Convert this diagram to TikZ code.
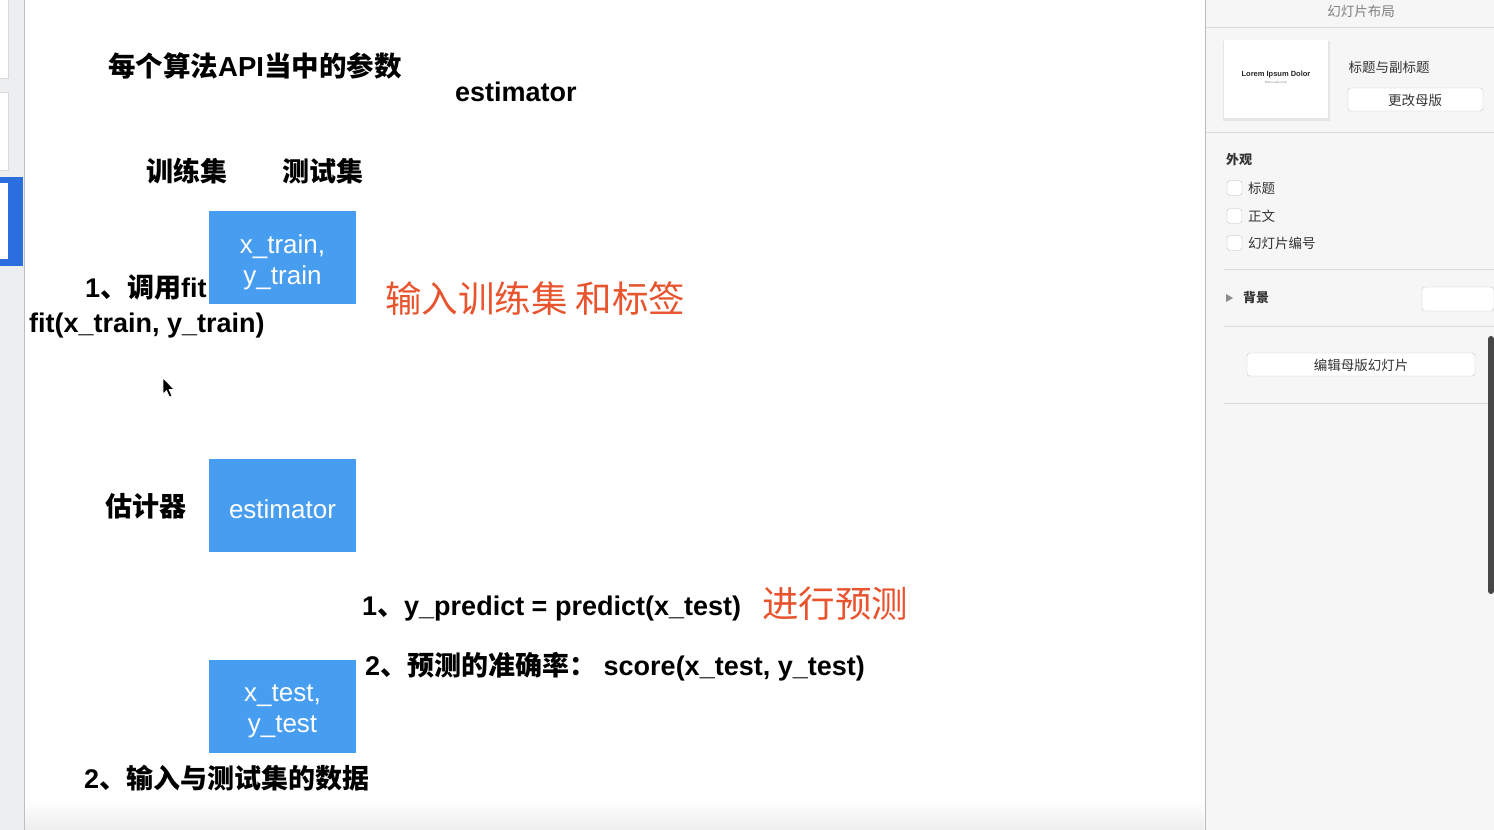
\documentclass[tikz,border=0pt]{standalone}
\usepackage{fontspec}
\setmainfont{Liberation Sans}
\newfontfamily\cjk{Noto Sans CJK SC}
\definecolor{boxblue}{RGB}{71,157,240}
\definecolor{redink}{RGB}{232,84,46}
\definecolor{panelbg}{RGB}{246,246,246}
\definecolor{selblue}{RGB}{45,110,222}
\definecolor{sidebg}{RGB}{236,238,240}
\newcommand\zh[1]{{\cjk #1}}
\begin{document}
\begin{tikzpicture}[x=1pt,y=-1pt,
  slidetxt/.style={anchor=west, inner sep=0pt, font=\fontsize{27}{32}\selectfont\bfseries, text=black},
  redlabel/.style={anchor=west, inner sep=0pt, font=\fontsize{36.5}{40}\selectfont\cjk, text=redink},
  bluebox/.style={fill=boxblue, draw=none, minimum width=147pt, minimum height=93pt, inner sep=0pt, anchor=north west},
  boxtxt/.style={text=white, align=center, inner sep=0pt, font=\fontsize{26}{31}\selectfont},
  paneltxt/.style={inner sep=0pt, font=\fontsize{13.5}{16}\selectfont\cjk, text=black!80},
  panelbtn/.style={draw=black!22, fill=white, rounded corners=3pt},
  panelline/.style={draw=black!14, line width=0.8pt},
  chkbox/.style={draw=black!25, fill=white, rounded corners=3pt, minimum width=15pt, minimum height=15pt, inner sep=0pt},
  thumb/.style={fill=white, draw=black!15}
]
\useasboundingbox (0,0) rectangle (1494,830);
\fill[white] (0,0) rectangle (1494,830);
% left sidebar
\fill[sidebg] (0,0) rectangle (24,830);
\path[thumb] (-5,-2) rectangle (8,78);
\path[thumb] (-5,92) rectangle (8,170);
\fill[selblue] (0,177) rectangle (23,266);
\fill[white] (0,183) rectangle (8,259);
\draw[black!25] (24.5,0) -- (24.5,830);
% slide bottom shade
\shade[top color=white, bottom color=black!7] (25,800) rectangle (1204,830);

% slide content
\node[slidetxt, font=\fontsize{27.5}{32}\selectfont\bfseries] (title) at (108,66) {\zh{每个算法}API\zh{当中的参数}};
\node[slidetxt] (est) at (455,92) {estimator};
\node[slidetxt] (train) at (146,171) {\zh{训练集}};
\node[slidetxt] (test) at (282,171) {\zh{测试集}};

\node[slidetxt] (fitcall) at (85,287) {1\zh{、调用}fit};
\node[bluebox] (trainbox) at (209,211) {};
\node[boxtxt] (traintxt) at (282.5,262) {x\_train,\\y\_train};
\node[slidetxt] (fitexpr) at (29,326) {fit(x\_train, y\_train)};
\node[redlabel] (trainnote) at (385,299) {输入训练集 和标签};

% mouse cursor
\filldraw[fill=black, draw=white, line width=0.6pt, line join=round]
  (163,378) -- (163,394) -- (166.5,390.5) -- (169.5,397) -- (172,396) -- (169,389.5) -- (174,389.5) -- cycle;

\node[slidetxt] (gujiqi) at (105,506) {\zh{估计器}};
\node[bluebox] (estbox) at (209,459) {};
\node[boxtxt] (esttxt) at (282.5,509) {estimator};

\node[slidetxt] (predict) at (362,608.5) {1\zh{、}y\_predict = predict(x\_test)};
\node[redlabel] (prednote) at (762,604) {进行预测};
\node[slidetxt] (score) at (365,667) {2\zh{、预测的准确率：} score(x\_test, y\_test)};

\node[bluebox] (testbox) at (209,660) {};
\node[boxtxt] (testtxt) at (282.5,711) {x\_test,\\y\_test};
\node[slidetxt] (testin) at (84,778) {2\zh{、输入与测试集的数据}};

% right panel
\fill[panelbg] (1205,0) rectangle (1494,830);
\draw[black!28] (1205.5,0) -- (1205.5,830);
\path[panelline] (1206,27) -- (1494,27);
\node[paneltxt, text=black!50] (ptitle) at (1361,11) {幻灯片布局};
\fill[black!10] (1223,41) rectangle (1330,121);
\fill[white] (1224,40) rectangle (1328,118);
\node[inner sep=0pt, font=\fontsize{7.5}{9}\selectfont\bfseries, text=black!85] (lorem) at (1276,75) {Lorem Ipsum Dolor};
\node[inner sep=0pt, font=\fontsize{3}{4}\selectfont, text=black!50] (loremsub) at (1276,83) {Donec quis nunc};
\node[paneltxt] (layoutname) at (1389,67) {标题与副标题};
\path[panelbtn] (1348,88) rectangle (1483,111);
\node[paneltxt] (changemaster) at (1415,100) {更改母版};
\path[panelline] (1206,132) -- (1494,132);
\node[paneltxt, font=\fontsize{13}{16}\selectfont\cjk\bfseries, anchor=west] (appear) at (1226,160) {外观};
\node[chkbox] (cb1) at (1234.5,188) {};
\node[paneltxt, anchor=west] (cbl1) at (1248,188) {标题};
\node[chkbox] (cb2) at (1234.5,216) {};
\node[paneltxt, anchor=west] (cbl2) at (1248,216) {正文};
\node[chkbox] (cb3) at (1234.5,243) {};
\node[paneltxt, anchor=west] (cbl3) at (1248,243) {幻灯片编号};
\path[panelline] (1224,269) -- (1494,269);
\fill[black!45] (1226,294) -- (1226,302) -- (1233,298) -- cycle;
\node[paneltxt, font=\fontsize{13}{16}\selectfont\cjk\bfseries, anchor=west] (bg) at (1243,298) {背景};
\path[panelbtn] (1422,287) rectangle (1494,311);
\path[panelline] (1224,326) -- (1494,326);
\path[panelbtn] (1247,353) rectangle (1475,376);
\node[paneltxt] (editmaster) at (1361,365) {编辑母版幻灯片};
\path[panelline] (1224,403) -- (1494,403);
\fill[black!72, rounded corners=3pt] (1488,336) rectangle (1494,594);
\end{tikzpicture}
\end{document}
